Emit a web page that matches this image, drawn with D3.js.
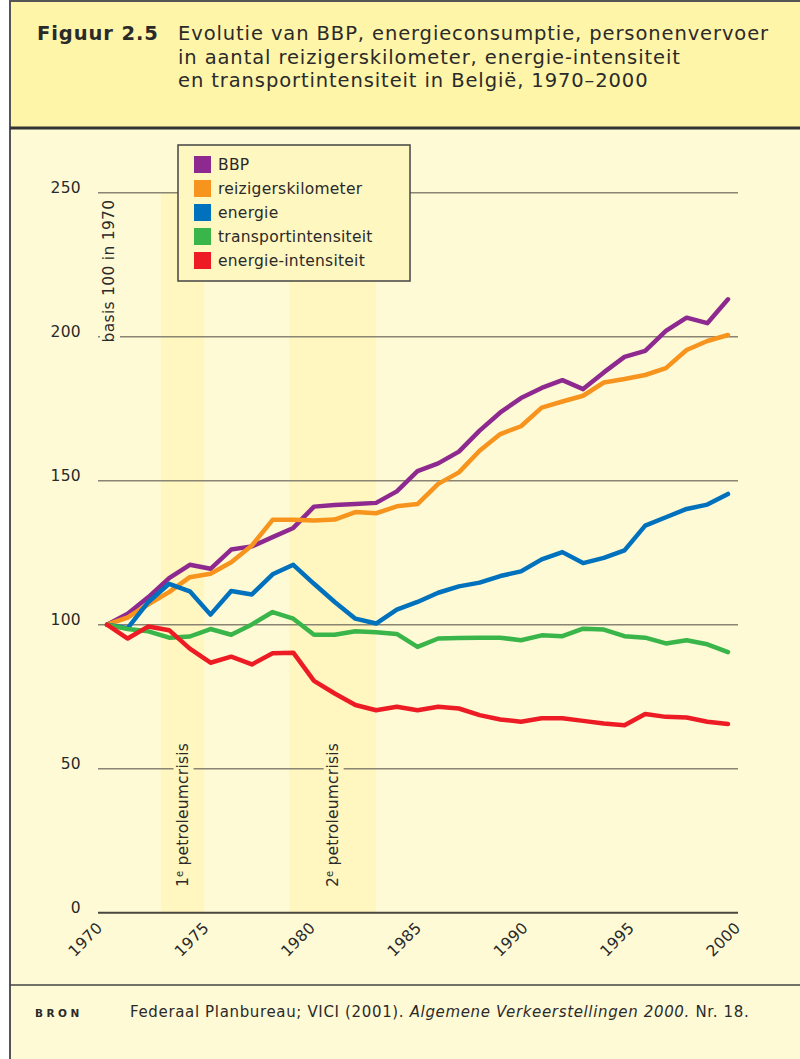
<!DOCTYPE html>
<html>
<head>
<meta charset="utf-8">
<script src="https://cdn.jsdelivr.net/npm/d3@7"></script>
<style>
  body { margin: 0; background: #fff; }
  svg text { font-family: "DejaVu Sans", Verdana, sans-serif; fill: #2a2a2a; }
</style>
</head>
<body>
<script>
// data (index, 1970 = 100)
var years = [1970,1971,1972,1973,1974,1975,1976,1977,1978,1979,1980,1981,1982,1983,1984,1985,
             1986,1987,1988,1989,1990,1991,1992,1993,1994,1995,1996,1997,1998,1999,2000];
var bbp = [100,103.8,109.6,116.2,120.8,119.4,126.1,127.2,130.4,133.6,141.0,141.6,141.9,142.3,146.3,153.3,
           156.0,160.1,167.4,173.7,178.7,182.2,184.9,181.8,187.6,193.0,195.1,202.0,206.6,204.7,213.0];
var reizigers = [100,102.5,107.1,111.3,116.5,117.7,121.7,127.5,136.4,136.4,136.2,136.5,139.1,138.7,141.1,141.9,
                 148.9,152.9,160.4,166.2,168.9,175.4,177.5,179.5,184.1,185.3,186.7,189.1,195.4,198.5,200.6];
var energie = [100,98.8,107.9,114.2,111.6,103.5,111.7,110.5,117.5,120.8,114.2,107.9,102.1,100.4,105.2,107.9,
               111.1,113.3,114.6,116.9,118.5,122.7,125.2,121.4,123.2,125.8,134.4,137.3,140.2,141.7,145.4];
var transport = [100,98.5,97.7,95.5,95.9,98.5,96.5,100.1,104.4,102.1,96.5,96.5,97.7,97.4,96.8,92.3,
                 95.2,95.4,95.5,95.5,94.6,96.3,96.0,98.6,98.3,96.0,95.5,93.5,94.6,93.2,90.5];
var intensiteit = [100,95.2,99.4,98.1,91.7,86.8,88.9,86.2,90.1,90.3,80.5,76.1,72.1,70.3,71.5,70.3,
                   71.5,70.9,68.6,67.1,66.3,67.5,67.5,66.6,65.7,65.1,69.0,68.0,67.8,66.3,65.5];

var seriesNames = ['BBP', 'reizigerskilometer', 'energie', 'transportintensiteit', 'energie-intensiteit'];
var seriesValues = [bbp, reizigers, energie, transport, intensiteit];
var seriesColors = ['#8e2a8f', '#f7941d', '#0071bc', '#39b54a', '#ed1c24'];

var yTicks = [0, 50, 100, 150, 200, 250];
var xTicks = [1970, 1975, 1980, 1985, 1990, 1995, 2000];
var crises = [[1972.6, 1974.7, '1', ' petroleumcrisis'], [1978.8, 1983.0, '2', ' petroleumcrisis']];

var width = 800, height = 1059;
var bandColor = '#fff6c0';

var svg = d3.select('body').append('svg')
    .attr('width', width)
    .attr('height', height);

// frame: header, body, footer
svg.append('rect').attr('x', 10).attr('y', 0).attr('width', 790).attr('height', height).attr('fill', '#fffad6');
svg.append('rect').attr('x', 10).attr('y', 0).attr('width', 790).attr('height', 128).attr('fill', '#fff5a8');
svg.append('line').attr('x1', 10).attr('x2', 800).attr('y1', 1).attr('y2', 1).attr('stroke', '#555').attr('stroke-width', 2);
svg.append('line').attr('x1', 10).attr('x2', 10).attr('y1', 0).attr('y2', height).attr('stroke', '#555').attr('stroke-width', 2);
svg.append('line').attr('x1', 10).attr('x2', 800).attr('y1', 128).attr('y2', 128).attr('stroke', '#333').attr('stroke-width', 3);
svg.append('line').attr('x1', 10).attr('x2', 800).attr('y1', 985).attr('y2', 985).attr('stroke', '#444').attr('stroke-width', 1.5);

// title
svg.append('text').attr('x', 37).attr('y', 40)
    .style('font-size', '19.5px').style('font-weight', 'bold').style('letter-spacing', '0.9px')
    .text('Figuur 2.5');
var titleLines = ['Evolutie van BBP, energieconsumptie, personenvervoer',
                  'in aantal reizigerskilometer, energie-intensiteit',
                  'en transportintensiteit in België, 1970–2000'];
svg.append('g').selectAll('text')
    .data(titleLines)
    .enter().append('text')
        .attr('x', 178)
        .attr('y', function(d, i) { return 40 + i * 23.5; })
        .style('font-size', '19.5px')
        .style('letter-spacing', '0.9px')
        .text(function(d) { return d; });

// scales
var x = d3.scaleLinear().domain([1970, 2000]).range([107, 728]);
var xLab = d3.scaleLinear().domain([1970, 2000]).range([103, 741]);
var y = d3.scaleLinear().domain([0, 250]).range([912.7, 192.7]);

// crisis bands
svg.append('g').selectAll('rect')
    .data(crises)
    .enter().append('rect')
        .attr('x', function(d) { return x(d[0]); })
        .attr('width', function(d) { return x(d[1]) - x(d[0]); })
        .attr('y', y(250))
        .attr('height', y(0) - y(250))
        .attr('fill', bandColor);

// gridlines
svg.append('g').selectAll('line')
    .data(yTicks.filter(function(d) { return d > 0; }))
    .enter().append('line')
        .attr('x1', 98).attr('x2', 738)
        .attr('y1', function(d) { return y(d); })
        .attr('y2', function(d) { return y(d); })
        .attr('stroke', '#8a8472')
        .attr('stroke-width', 1.5);

svg.append('line')
    .attr('x1', 98).attr('x2', 738)
    .attr('y1', y(0)).attr('y2', y(0))
    .attr('stroke', '#4a473e')
    .attr('stroke-width', 2);

// y tick labels
svg.append('g').selectAll('text')
    .data(yTicks)
    .enter().append('text')
        .attr('x', 81)
        .attr('y', function(d) { return y(d) + 0.5; })
        .attr('text-anchor', 'end')
        .style('font-size', '15.5px')
        .style('letter-spacing', '0.3px')
        .text(function(d) { return d; });

// x tick labels
var xAxis = d3.axisBottom(xLab).tickValues(xTicks).tickSize(0).tickFormat(d3.format('d'));
var xg = svg.append('g')
    .attr('transform', 'translate(0,' + y(0) + ')')
    .call(xAxis);
xg.select('.domain').remove();
xg.selectAll('text')
    .style('font-size', '15.5px')
    .style('font-family', '"DejaVu Sans", Verdana, sans-serif')
    .style('letter-spacing', '0.3px')
    .attr('fill', '#2a2a2a')
    .attr('y', 0)
    .attr('dy', 0)
    .attr('text-anchor', 'end')
    .attr('transform', 'translate(0,16) rotate(-45)');

// y axis title, masking the grid behind it
var yTitle = svg.append('g').attr('transform', 'translate(114,' + 271 + ') rotate(-90)');
yTitle.append('rect').attr('x', -77).attr('y', -14).attr('width', 154).attr('height', 20).attr('fill', '#fffad6');
yTitle.append('text')
    .attr('text-anchor', 'middle')
    .style('font-size', '15.5px')
    .style('letter-spacing', '0.3px')
    .text('basis 100 in 1970');

// crisis labels
crises.forEach(function(c) {
    var g = svg.append('g')
        .attr('transform', 'translate(' + (x((c[0] + c[1]) / 2) + 5) + ',' + 887 + ') rotate(-90)');
    g.append('rect').attr('x', -2).attr('y', -14).attr('width', 150).attr('height', 20).attr('fill', bandColor);
    var t = g.append('text').style('font-size', '15.5px').style('letter-spacing', '0.2px');
    t.append('tspan').text(c[2]);
    t.append('tspan').attr('baseline-shift', 'super').style('font-size', '10px').text('e');
    t.append('tspan').text(c[3]);
});

// lines
var line = d3.line()
    .x(function(d, i) { return x(years[i]); })
    .y(function(d) { return y(d); });

svg.append('g').selectAll('path')
    .data(seriesValues)
    .enter().append('path')
        .attr('d', line)
        .attr('fill', 'none')
        .attr('stroke', function(d, i) { return seriesColors[i]; })
        .attr('stroke-width', 4.5)
        .attr('stroke-linejoin', 'round')
        .attr('stroke-linecap', 'round');

// legend
var legend = svg.append('g').attr('transform', 'translate(178,145)');
legend.append('rect')
    .attr('width', 232).attr('height', 136)
    .attr('fill', '#fff7c0')
    .attr('stroke', '#444').attr('stroke-width', 1.5);
var item = legend.selectAll('g.item')
    .data(seriesNames)
    .enter().append('g')
        .attr('class', 'item')
        .attr('transform', function(d, i) { return 'translate(16,' + (11 + i * 24) + ')'; });
item.append('rect')
    .attr('width', 17).attr('height', 17)
    .attr('fill', function(d, i) { return seriesColors[i]; });
item.append('text')
    .attr('x', 24).attr('y', 14)
    .style('font-size', '15.5px')
    .style('letter-spacing', '0.25px')
    .text(function(d) { return d; });

// source
svg.append('text').attr('x', 35).attr('y', 1017)
    .style('font-size', '10.5px').style('font-weight', 'bold').style('letter-spacing', '3.5px')
    .text('BRON');
var src = svg.append('text').attr('x', 130).attr('y', 1017)
    .style('font-size', '15px').style('letter-spacing', '0.65px');
src.append('tspan').text('Federaal Planbureau; VICI (2001). ');
src.append('tspan').style('font-style', 'italic').text('Algemene Verkeerstellingen 2000.');
src.append('tspan').text(' Nr. 18.');
</script>
</body>
</html>
